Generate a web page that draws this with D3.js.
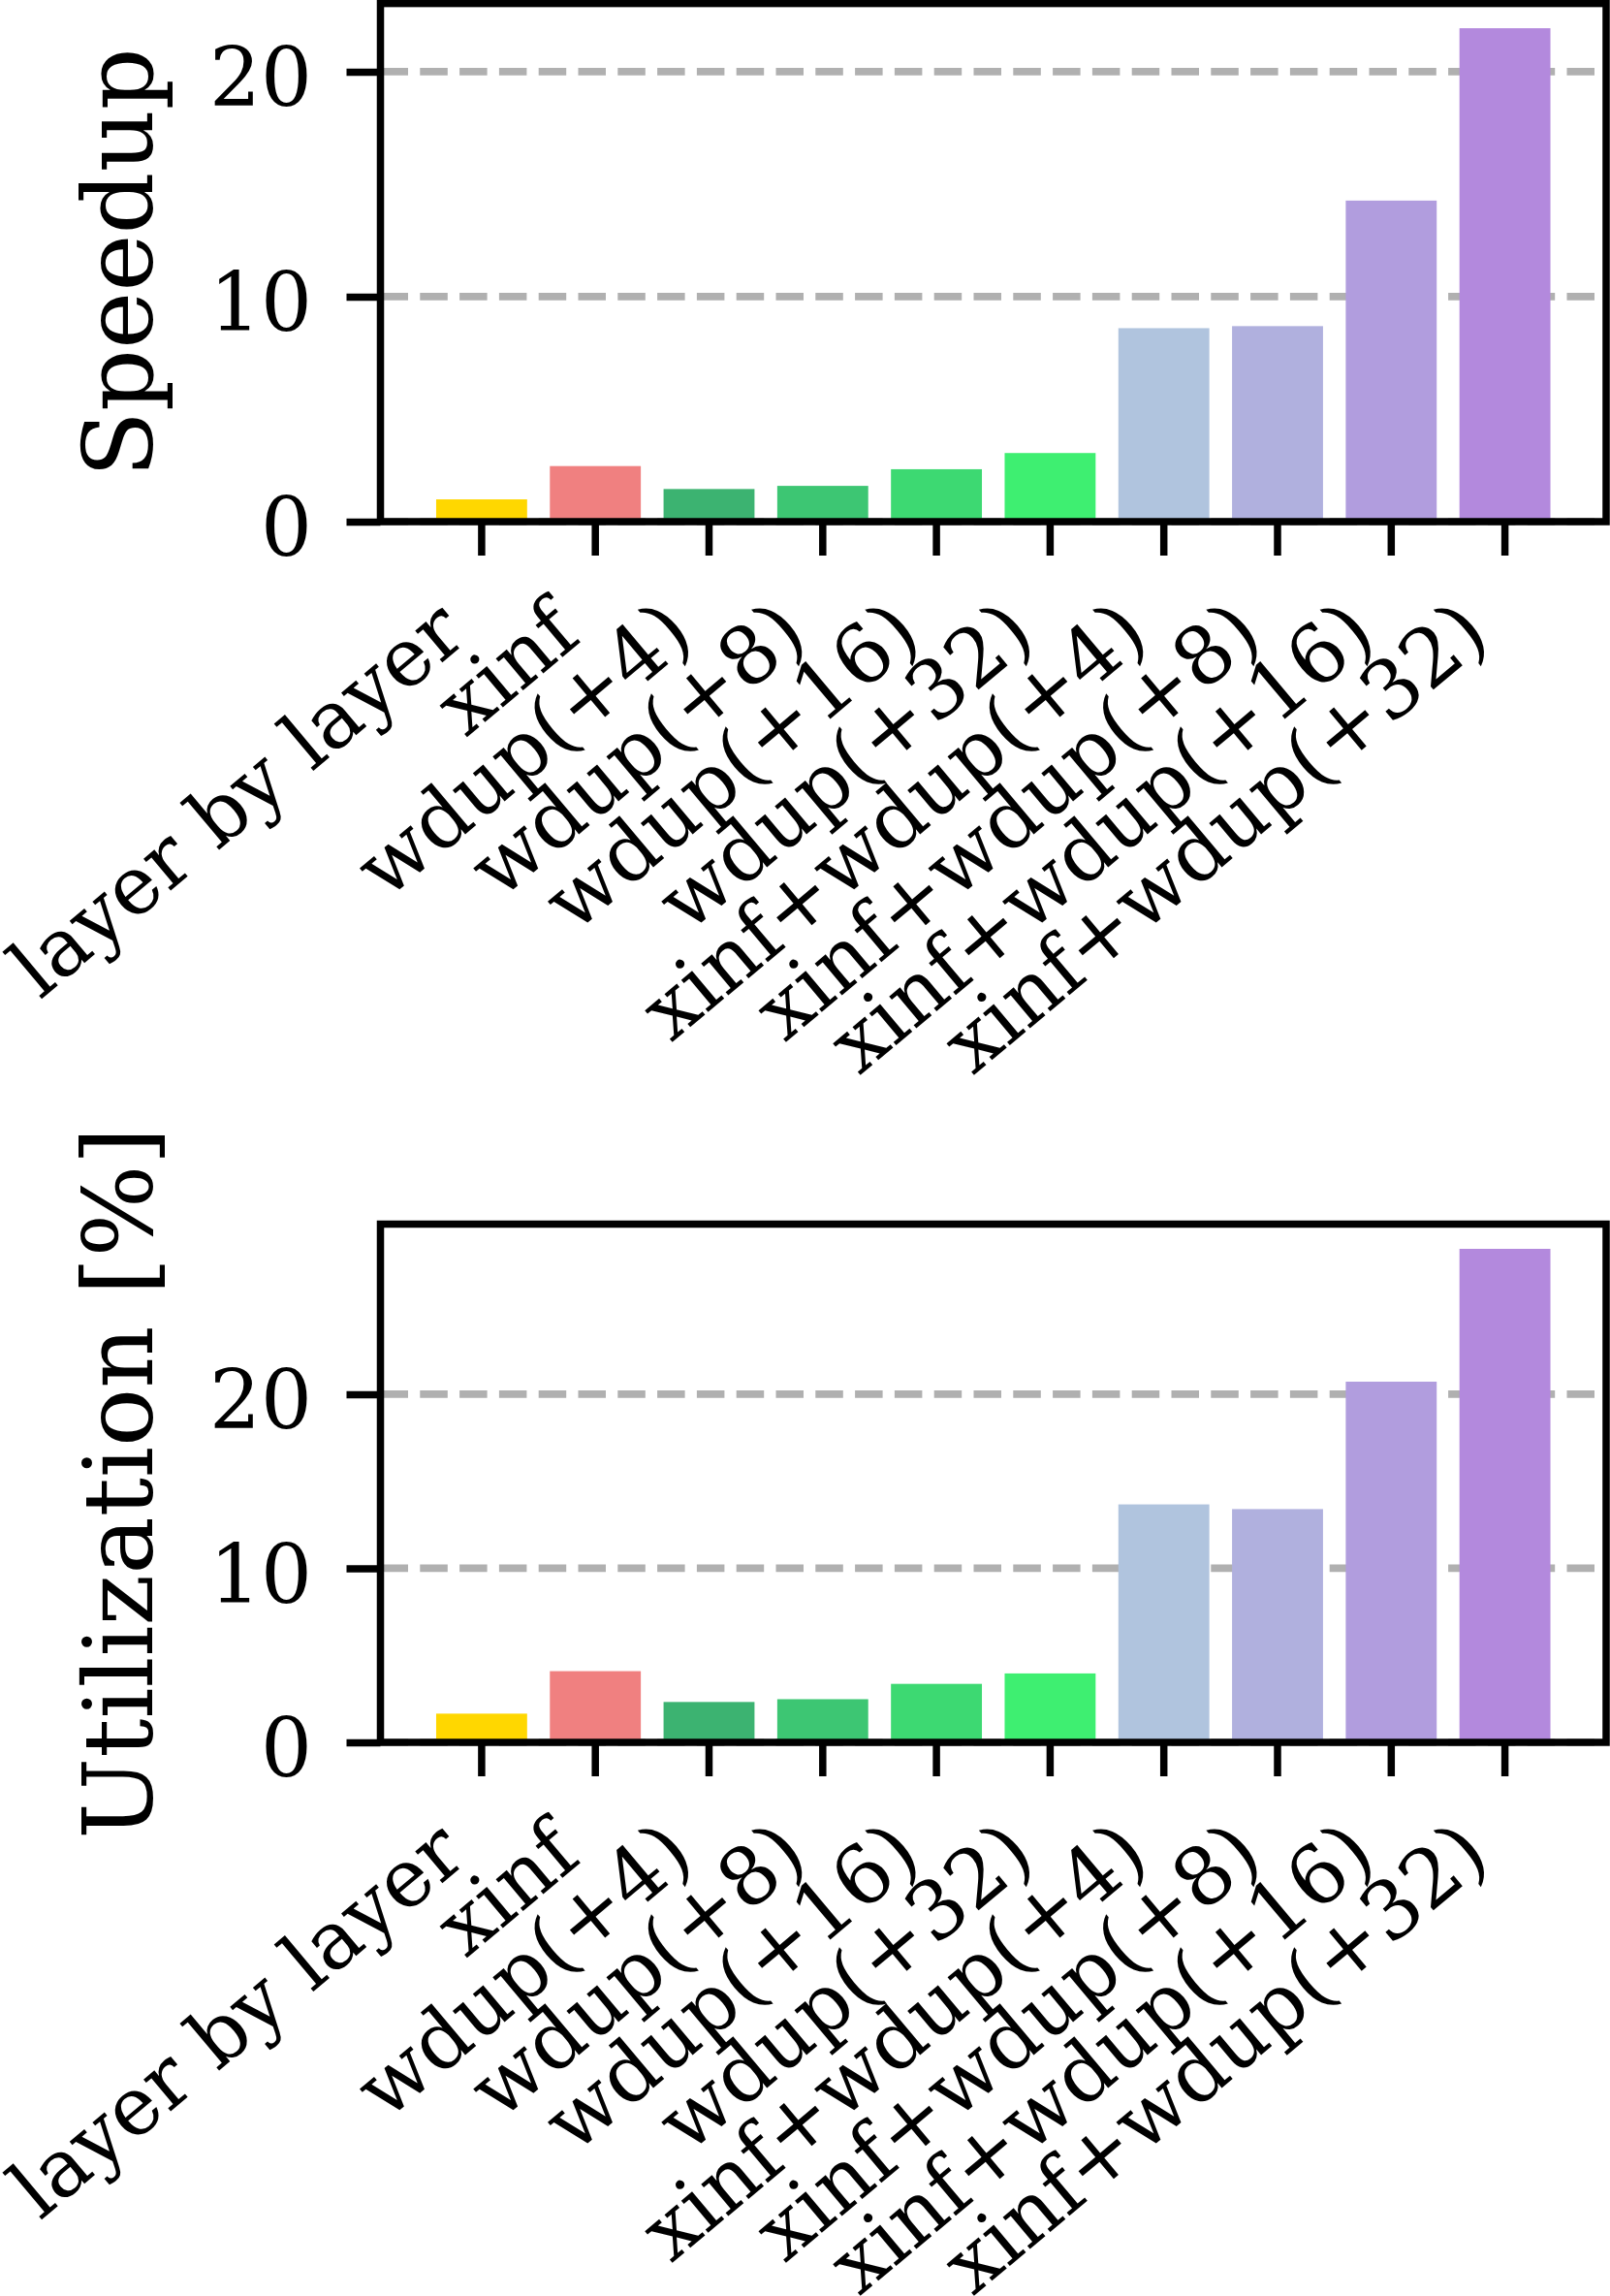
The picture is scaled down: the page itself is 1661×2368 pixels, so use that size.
<!DOCTYPE html>
<html>
<head>
<meta charset="utf-8">
<script src="https://cdn.jsdelivr.net/npm/d3@7"></script>
<style>
  html, body { margin: 0; padding: 0; background: #ffffff; }
  svg { display: block; }
</style>
</head>
<body>
<div id="chart"></div>
<script>
// ---------------- data ----------------
const categories = [
  "layer by layer", "xinf", "wdup(+4)", "wdup(+8)", "wdup(+16)", "wdup(+32)",
  "xinf+wdup(+4)", "xinf+wdup(+8)", "xinf+wdup(+16)", "xinf+wdup(+32)"
];
const speedup = [0.99, 2.47, 1.45, 1.59, 2.33, 3.05, 8.60, 8.69, 14.27, 21.93];
const utilization = [1.65, 4.09, 2.32, 2.48, 3.36, 3.96, 13.67, 13.40, 20.72, 28.35];
const barColors = [
  "#FFD700", "#F08080", "#3CB371", "#3DC673", "#3DD972", "#3EEF71",
  "#B0C4DE", "#B0B0DE", "#B19DDE", "#B389DD"
];
const yTickValues = [0, 10, 20];
const speedupLabel = "Speedup";
const utilizationLabel = "Utilization [%]";

// ---------------- layout ----------------
const W = 1661, H = 2368;
const plotLeft = 392.5, plotRight = 1657;
const panels = [
  { values: speedup, label: speedupLabel, top: 3.6, bottom: 538, yMax: 23.03 },
  { values: utilization, label: utilizationLabel, top: 1262.5, bottom: 1797, yMax: 29.77 }
];
const tickFont = 83.3, labelFont = 100;
const spineW = 7.5, tickLen = 35, tickW = 7.5;

const svg = d3.select("#chart").append("svg")
  .attr("width", W).attr("height", H)
  .attr("viewBox", `0 0 ${W} ${H}`)
  .style("font-family", "'DejaVu Serif', serif");

svg.append("rect").attr("width", W).attr("height", H).attr("fill", "#fff");

const x = d3.scaleBand()
  .domain(categories)
  .range([plotLeft, plotRight])
  .paddingInner(0.2)
  .paddingOuter(0.49);

panels.forEach(p => {
  const y = d3.scaleLinear().domain([0, p.yMax]).range([p.bottom, p.top]);
  const g = svg.append("g");

  // grid lines (behind bars)
  g.append("g").selectAll("line")
    .data(yTickValues)
    .join("line")
    .attr("x1", plotLeft).attr("x2", plotRight)
    .attr("y1", d => y(d)).attr("y2", d => y(d))
    .attr("stroke", "#b0b0b0")
    .attr("stroke-width", 7.7)
    .attr("stroke-dasharray", "28.5,12.3");

  // bars
  g.append("g").selectAll("rect")
    .data(p.values)
    .join("rect")
    .attr("x", (d, i) => x(categories[i]))
    .attr("width", x.bandwidth())
    .attr("y", d => y(d))
    .attr("height", d => y(0) - y(d))
    .attr("fill", (d, i) => barColors[i]);

  // y axis
  const yAxis = g.append("g")
    .attr("transform", `translate(${plotLeft},0)`)
    .call(d3.axisLeft(y).tickValues(yTickValues).tickSize(tickLen).tickFormat(d3.format("d")));
  yAxis.select(".domain").remove();
  yAxis.attr("font-family", null).attr("font-size", null);
  yAxis.selectAll(".tick line").attr("stroke", "#000").attr("stroke-width", tickW);
  yAxis.selectAll(".tick text")
    .attr("x", -70.5)
    .attr("dy", "0")
    .attr("y", 34.6)
    .attr("fill", "#000")
    .style("font-family", "'DejaVu Serif', serif")
    .style("font-size", tickFont + "px")
    .style("text-anchor", "end");

  // x axis
  const xAxis = g.append("g")
    .attr("transform", `translate(0,${p.bottom})`)
    .call(d3.axisBottom(x).tickSize(tickLen));
  xAxis.select(".domain").remove();
  xAxis.attr("font-family", null).attr("font-size", null);
  xAxis.selectAll(".tick line").attr("stroke", "#000").attr("stroke-width", tickW);
  xAxis.selectAll(".tick text")
    .attr("x", 0).attr("y", 0).attr("dy", "0")
    .attr("transform", "translate(-12.6,122) rotate(-40)")
    .attr("fill", "#000")
    .style("font-family", "'DejaVu Serif', serif")
    .style("font-size", tickFont + "px")
    .style("text-anchor", "end");

  // spines
  g.append("rect")
    .attr("x", plotLeft).attr("y", p.top)
    .attr("width", plotRight - plotLeft).attr("height", p.bottom - p.top)
    .attr("fill", "none")
    .attr("stroke", "#000")
    .attr("stroke-width", spineW);

  // y label
  g.append("text")
    .attr("transform", `translate(156.5,${(p.top + p.bottom) / 2}) rotate(-90)`)
    .attr("text-anchor", "middle")
    .attr("fill", "#000")
    .style("font-family", "'DejaVu Serif', serif")
    .style("font-size", labelFont + "px")
    .text(p.label);
});
</script>
</body>
</html>
